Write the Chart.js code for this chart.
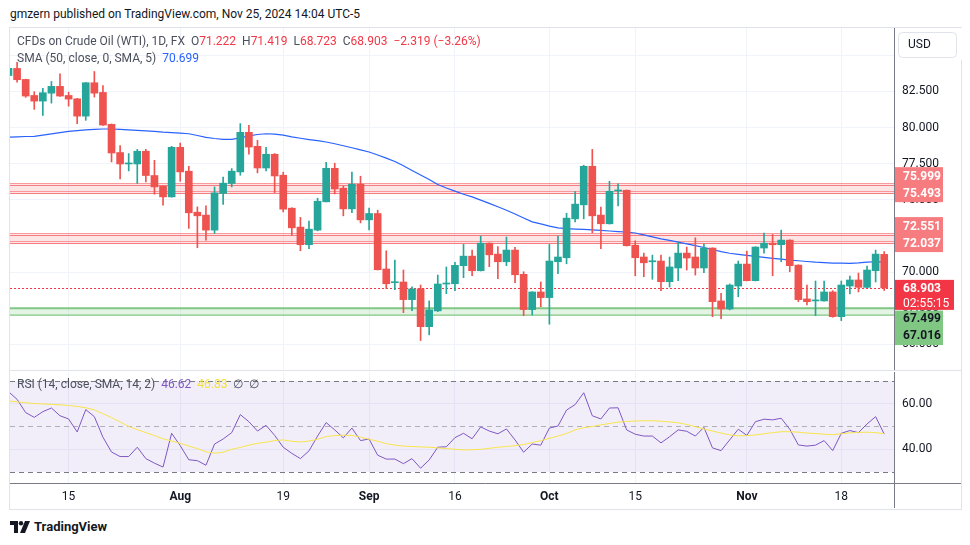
<!DOCTYPE html>
<html>
<head>
<meta charset="utf-8">
<script src="https://cdn.jsdelivr.net/npm/chart.js@4.4.1/dist/chart.umd.min.js"></script>
<style>
  html, body { margin: 0; padding: 0; background: #fff; }
  body { width: 970px; height: 545px; position: relative; overflow: hidden;
         font-family: Roboto, "Liberation Sans", sans-serif; color: #131722; }
  .abs { position: absolute; white-space: nowrap; }
  #frame { left: 9px; top: 27px; width: 951px; height: 481px; border: 1px solid #e0e3eb; }
  #sep { left: 10px; top: 370px; width: 951px; height: 1px; background: #e0e3eb; }
  #head { left: 10px; top: 7px; font-size: 12px; color: #131722; }
  .leg { left: 17px; font-size: 12px; color: #4a4f5c; }
  .leg b { font-weight: normal; color: #f23645; }
  #main { left: 0; top: 28px; }
  #rsi { left: 0; top: 371px; }
  #logo { left: 10px; top: 519px; font-size: 13px; font-weight: bold; color: #131722; }
  #logo svg { vertical-align: -2px; margin-right: 4px; }
</style>
</head>
<body>
<div id="frame" class="abs"></div>
<canvas id="main" class="abs" width="962" height="343"></canvas>
<div id="sep" class="abs"></div>
<canvas id="rsi" class="abs" width="962" height="138"></canvas>

<div id="head" class="abs">gmzern published on TradingView.com, Nov 25, 2024 14:04 UTC-5</div>
<div class="abs leg" style="top:34px">CFDs on Crude Oil (WTI), 1D, FX&nbsp;&nbsp;O<b>71.222</b>&nbsp;&nbsp;H<b>71.419</b>&nbsp;&nbsp;L<b>68.723</b>&nbsp;&nbsp;C<b>68.903</b>&nbsp;&nbsp;<b>−2.319 (−3.26%)</b></div>
<div class="abs leg" style="top:51px">SMA (50, close, 0, SMA, 5)&nbsp;&nbsp;<span style="color:#2962ff">70.699</span></div>
<div class="abs leg" style="top:377px">RSI (14, close, SMA, 14, 2)&nbsp;&nbsp;<span style="color:#7e57c2">46.62</span>&nbsp;&nbsp;<span style="color:#f5e03a">46.83</span>&nbsp;&nbsp;∅&nbsp;&nbsp;∅</div>
<div id="logo" class="abs"><svg width="20" height="12" viewBox="0 0 20 12"><path d="M0 0h8v12H4V4H0z" fill="#131722"/><circle cx="11" cy="2.2" r="2.2" fill="#131722"/><path d="M15 0h5l-5 12h-5z" fill="#131722"/></svg>TradingView</div>

<script>
// daily bars, Jul 4 .. Nov 25 2024 (index = bar number)
const opens = [83.60,84.09,83.33,82.22,81.83,82.38,82.85,82.22,81.99,80.79,
  83.10,82.43,80.22,78.27,77.48,77.48,78.36,76.68,75.94,75.20,
  78.63,76.98,74.14,73.94,72.90,75.44,76.13,76.93,79.67,78.70,
  77.20,78.15,76.70,74.42,73.11,71.89,72.90,74.86,77.18,75.80,
  74.37,76.08,73.61,74.05,70.21,69.26,69.31,68.09,68.83,66.22,
  67.31,69.17,69.19,70.44,71.10,70.09,72.00,71.24,70.71,71.52,
  69.84,67.40,68.62,68.23,70.71,70.99,73.68,74.65,77.32,73.94,
  73.34,75.61,75.66,71.86,71.04,70.71,70.76,69.33,70.28,71.31,
  71.04,70.28,71.66,68.00,67.44,69.03,70.55,69.40,71.66,72.00,
  71.89,72.21,70.48,68.14,68.00,68.00,68.62,66.91,69.03,69.45,
  68.94,70.09,71.222];
const highs = [84.30,84.52,83.35,82.48,82.71,83.19,83.72,82.45,82.02,83.12,
  83.88,82.91,80.25,78.75,78.20,78.49,78.49,77.73,75.96,78.70,
  78.93,77.32,74.51,74.58,75.89,76.58,77.16,80.27,80.15,79.12,
  78.63,78.20,76.91,74.45,73.78,73.52,75.11,77.60,77.53,75.94,
  76.91,76.63,74.42,74.28,71.47,70.83,70.14,68.98,69.10,68.00,
  69.79,70.35,70.67,71.91,71.52,72.49,72.02,71.77,72.42,71.71,
  70.02,68.64,69.31,71.91,72.49,74.07,75.57,77.39,78.49,74.49,
  76.28,76.10,75.68,72.16,71.31,71.17,71.17,71.04,72.05,71.73,
  72.37,71.93,71.68,68.53,69.17,70.76,71.45,71.75,72.69,72.60,
  72.90,72.23,70.50,69.10,69.38,69.38,68.71,69.38,69.72,69.93,
  70.41,71.52,71.419];
const lows = [83.40,83.14,82.09,81.26,80.84,81.69,82.15,81.48,80.27,80.50,
  82.11,80.15,77.62,76.44,77.00,76.13,76.24,75.39,74.63,75.18,
  76.28,73.02,71.68,72.21,72.67,74.68,75.89,76.70,78.15,76.86,
  77.00,75.50,74.16,72.53,71.47,71.61,72.85,74.85,75.41,73.89,
  74.10,73.40,72.92,70.14,68.85,68.78,67.19,67.33,65.26,65.65,
  67.26,68.50,68.71,69.61,69.74,70.07,70.37,69.54,70.44,69.26,
  66.98,67.03,67.60,66.39,69.88,70.57,73.47,73.68,72.71,71.61,
  73.32,74.58,71.80,69.74,69.68,69.50,68.71,68.96,69.40,70.14,
  69.79,69.95,66.91,66.77,67.38,68.29,69.38,69.38,71.31,69.74,
  70.71,70.02,67.95,67.72,66.98,67.98,66.87,66.64,68.48,68.62,
  68.92,69.31,68.723];
const closes = [84.10,83.31,82.18,81.83,82.41,82.85,82.18,81.97,80.79,83.10,
  82.38,80.17,78.24,77.48,77.51,78.36,76.68,75.89,75.20,78.63,
  76.93,74.10,73.89,72.90,75.48,76.15,76.98,79.67,78.65,77.20,
  78.15,76.65,74.35,73.06,71.89,72.97,74.90,77.18,75.75,74.37,
  76.08,73.61,74.05,70.16,69.19,69.31,68.09,68.83,66.22,67.38,
  69.17,69.24,70.46,71.10,70.09,72.00,71.19,70.71,71.52,69.81,
  67.40,68.62,68.23,70.76,71.04,73.73,74.70,77.32,73.89,73.34,
  75.59,75.66,71.82,70.99,70.64,70.74,69.33,70.35,71.31,70.97,
  70.28,71.66,67.95,67.44,69.10,70.55,69.40,71.73,72.00,71.89,
  72.21,70.44,68.09,67.95,68.05,68.62,66.91,69.10,69.45,68.94,
  70.14,71.24,68.903];
const sma50 = [79.34,79.36,79.38,79.39,79.47,79.56,79.65,79.74,79.79,79.84,
  79.88,79.90,79.90,79.88,79.84,79.80,79.77,79.73,79.68,79.65,
  79.62,79.57,79.45,79.32,79.24,79.18,79.18,79.28,79.42,79.52,
  79.57,79.55,79.48,79.36,79.26,79.17,79.09,79.00,78.88,78.74,
  78.60,78.45,78.31,78.10,77.88,77.65,77.35,77.03,76.72,76.40,
  76.06,75.82,75.60,75.38,75.20,74.98,74.75,74.52,74.28,74.02,
  73.74,73.47,73.33,73.18,73.06,73.00,72.97,72.95,72.92,72.88,
  72.84,72.80,72.77,72.70,72.57,72.43,72.30,72.19,72.07,71.95,
  71.83,71.70,71.56,71.41,71.30,71.22,71.15,71.08,71.01,70.95,
  70.89,70.83,70.78,70.73,70.68,70.65,70.62,70.61,70.60,70.63,
  70.68,70.71,70.699];
const rsi = [65.3,61.9,56.1,54.0,56.5,58.1,54.7,53.3,47.6,57.4,
  54.3,45.3,38.8,36.8,36.8,40.9,35.9,33.9,32.2,47.0,
  41.6,35.4,35.0,33.0,42.3,44.5,47.3,55.2,52.1,48.0,
  50.5,46.1,40.9,38.2,35.9,39.3,45.8,51.7,48.5,45.0,
  49.3,43.8,44.5,37.4,35.7,35.7,33.7,35.9,31.7,35.3,
  40.9,41.1,45.1,47.0,44.6,49.8,48.0,46.8,48.9,44.1,
  38.7,42.3,41.8,49.3,50.2,57.2,59.6,64.8,54.7,53.3,
  58.1,58.2,48.5,46.6,45.8,45.8,42.8,45.5,48.5,47.9,
  45.8,49.6,40.6,39.4,44.1,48.8,46.1,52.1,53.2,52.9,
  53.6,48.8,41.9,41.4,41.8,43.8,39.4,47.0,48.2,47.3,
  51.1,54.3,46.62];
const rsiSma = [61.2,60.8,60.4,60.1,59.9,59.7,59.5,59.2,58.8,58.2,
  57.3,55.6,53.9,52.0,50.0,48.6,47.3,46.0,44.6,43.6,
  42.6,41.4,40.3,38.9,38.3,38.7,40.0,40.8,41.8,42.6,
  43.1,43.8,44.1,43.5,43.2,43.6,44.4,45.6,46.0,46.2,
  46.1,45.3,44.4,43.5,42.5,41.8,41.4,41.2,41.0,40.9,
  40.6,40.3,40.0,39.7,39.8,40.0,40.4,40.9,41.2,41.6,
  42.1,42.9,43.8,44.8,45.8,46.9,48.5,49.5,50.0,50.7,
  51.3,51.9,52.2,52.4,52.5,52.5,52.3,52.0,51.6,50.9,
  49.9,48.9,48.0,47.1,46.3,45.9,46.0,46.3,46.8,47.3,
  47.7,47.7,47.5,47.1,46.9,46.6,46.4,46.8,47.2,47.4,
  47.5,47.3,46.83];

// time axis ticks (bar index -> label)
const tickIdx = [7, 20, 32, 42, 52, 63, 73, 86, 97];
const tickText = ["15", "Aug", "19", "Sep", "16", "Oct", "15", "Nov", "18"];
const monthNames = ["Aug", "Sep", "Oct", "Nov"];

// horizontal zones drawn on the chart
const redZones = [[75.999, 75.493], [72.551, 72.037]];
const greenZone = [67.499, 67.016];
const lastClose = 68.903;
const countdown = "02:55:15";

const UP = "#26a69a";
const DOWN = "#ef5350";
const GRID = "#f0f3fa";
const AXIS = "#787b86";
const FONT = "Roboto, 'Liberation Sans', sans-serif";
const X_MIN = 0.175;
const X_MAX = 103.14;

const barColors = closes.map((c, i) => (c >= opens[i] ? UP : DOWN));
const idx = closes.map((_, i) => i);

function noPad(scale) {
    scale.paddingTop = 0;
    scale.paddingBottom = 0;
    scale.paddingLeft = 0;
    scale.paddingRight = 0;
}

function tickLabel(v) {
    const k = tickIdx.indexOf(v);
    return k >= 0 ? tickText[k] : "";
}

function hLine(ctx, a, yy) {
    ctx.beginPath();
    ctx.moveTo(a.left, yy);
    ctx.lineTo(a.right, yy);
    ctx.stroke();
}

// -------------------------------------------------------------------------
// price pane
// -------------------------------------------------------------------------

const zonesPlugin = {
    id: "zones",
    beforeDatasetsDraw(chart) {
        const { ctx, chartArea: a, scales: { y } } = chart;
        ctx.save();
        ctx.beginPath();
        ctx.rect(a.left, a.top, a.right - a.left, a.bottom - a.top);
        ctx.clip();
        redZones.forEach(([hi, lo]) => {
            const y1 = Math.round(y.getPixelForValue(hi)) + 0.5;
            const y2 = Math.round(y.getPixelForValue(lo)) + 0.5;
            ctx.fillStyle = "rgba(247,124,128,0.2)";
            ctx.fillRect(a.left, y1 - 2, a.right - a.left, y2 - y1 + 2);
            ctx.lineWidth = 1;
            ctx.strokeStyle = "rgba(247,124,128,0.75)";
            hLine(ctx, a, y1 - 2);
            hLine(ctx, a, y2 - 2);
            ctx.strokeStyle = "#f77c80";
            hLine(ctx, a, y1);
            hLine(ctx, a, y2);
        });
        const g1 = y.getPixelForValue(greenZone[0]);
        const g2 = y.getPixelForValue(greenZone[1]);
        ctx.fillStyle = "rgba(129,199,132,0.22)";
        ctx.fillRect(a.left, g1, a.right - a.left, g2 - g1);
        ctx.strokeStyle = "#81c784";
        ctx.lineWidth = 2;
        hLine(ctx, a, g1);
        ctx.lineWidth = 1.3;
        hLine(ctx, a, g2);
        // last price dotted line
        const yc = Math.round(y.getPixelForValue(lastClose)) + 0.5;
        ctx.strokeStyle = "#f23645";
        ctx.lineWidth = 1;
        ctx.setLineDash([2, 2]);
        hLine(ctx, a, yc);
        ctx.restore();
    },
    afterDraw(chart) {
        const { ctx, chartArea: a, scales: { y } } = chart;
        const x0 = a.right + 1;
        const tx = a.right + 9;
        ctx.save();
        ctx.font = `bold 12px ${FONT}`;
        ctx.textBaseline = "middle";
        ctx.textAlign = "left";

        redZones.forEach(([hi, lo]) => {
            const yl = y.getPixelForValue(lo);
            const yh = yl - 16.5;
            ctx.fillStyle = "#f77c80";
            ctx.fillRect(x0, yh - 9, 48, yl - yh + 18.5);
            ctx.fillStyle = "#fff";
            ctx.fillText(hi.toFixed(3), tx, yh + 1);
            ctx.fillText(lo.toFixed(3), tx, yl + 1);
        });

        const yc = y.getPixelForValue(lastClose);
        ctx.fillStyle = "#f23645";
        ctx.fillRect(x0, yc - 8, 59, 30);
        ctx.fillStyle = "#fff";
        ctx.fillText(lastClose.toFixed(3), tx, yc + 1);
        ctx.font = `12px ${FONT}`;
        ctx.fillText(countdown, tx, yc + 16);

        const gt = yc + 22.7;
        ctx.fillStyle = "#81c784";
        ctx.fillRect(x0, gt, 48, 34.5);
        ctx.fillStyle = "#131722";
        ctx.font = `bold 12px ${FONT}`;
        ctx.fillText(greenZone[0].toFixed(3), tx, gt + 8.5);
        ctx.fillText(greenZone[1].toFixed(3), tx, gt + 25);

        // currency box
        ctx.fillStyle = "#fff";
        ctx.fillRect(a.right + 2, 0, 66, 32);
        ctx.strokeStyle = "#e0e3eb";
        ctx.lineWidth = 1;
        ctx.beginPath();
        ctx.roundRect(a.right + 4.5, 4.5, 58, 25, 4);
        ctx.stroke();
        ctx.fillStyle = "#131722";
        ctx.font = `12px ${FONT}`;
        ctx.fillText("USD", a.right + 14, 17);
        ctx.restore();
    },
};

new Chart(document.getElementById("main"), {
    type: "bar",
    data: {
        datasets: [
            {
                type: "line",
                data: idx.map((i) => ({ x: i, y: sma50[i] })),
                borderColor: "#2962ff",
                borderWidth: 1.2,
                pointRadius: 0,
                tension: 0,
                order: 3,
            },
            {
                data: idx.map((i) => ({ x: i, y: [lows[i], highs[i]] })),
                backgroundColor: barColors,
                barThickness: 1,
                grouped: false,
                order: 2,
            },
            {
                data: idx.map((i) => ({ x: i, y: [opens[i], closes[i]] })),
                backgroundColor: barColors,
                barThickness: 7,
                minBarLength: 1,
                grouped: false,
                order: 1,
            },
        ],
    },
    options: {
        responsive: false,
        animation: false,
        devicePixelRatio: 1,
        events: [],
        layout: { padding: { left: 10, top: 0, right: 0, bottom: 0 } },
        plugins: { legend: { display: false }, tooltip: { enabled: false } },
        scales: {
            x: {
                type: "linear",
                offset: false,
                min: X_MIN,
                max: X_MAX,
                afterBuildTicks: (axis) => { axis.ticks = tickIdx.map((v) => ({ value: v })); },
                afterFit: (scale) => { scale.height = 0; noPad(scale); },
                ticks: { display: false },
                grid: { color: GRID, drawTicks: false, offset: false },
                border: { display: false },
            },
            y: {
                position: "right",
                min: 63.15,
                max: 86.89,
                afterFit: (scale) => { scale.width = 68; noPad(scale); },
                ticks: {
                    stepSize: 2.5,
                    includeBounds: false,
                    padding: 8,
                    color: "#131722",
                    font: { family: FONT, size: 12 },
                    callback: (v) => v.toFixed(3),
                },
                grid: { color: GRID, drawTicks: false },
                border: { color: AXIS },
            },
        },
    },
    plugins: [zonesPlugin],
});

// -------------------------------------------------------------------------
// RSI pane + time axis
// -------------------------------------------------------------------------

const rsiBandPlugin = {
    id: "rsiBand",
    beforeDatasetsDraw(chart) {
        const { ctx, chartArea: a, scales: { y } } = chart;
        const y70 = y.getPixelForValue(70);
        const y30 = y.getPixelForValue(30);
        const y50 = y.getPixelForValue(50);
        ctx.save();
        ctx.fillStyle = "rgba(126,87,194,0.1)";
        ctx.fillRect(a.left, y70, a.right - a.left, y30 - y70);
        ctx.setLineDash([5, 4]);
        ctx.lineWidth = 1;
        [[y70, AXIS], [y30, AXIS], [y50, "rgba(120,123,134,0.55)"]].forEach(([yy, c]) => {
            ctx.strokeStyle = c;
            hLine(ctx, a, Math.round(yy) + 0.5);
        });
        ctx.restore();
    },
    afterDraw(chart) {
        const { ctx, chartArea: a, width, height } = chart;
        ctx.save();
        ctx.strokeStyle = AXIS;
        ctx.lineWidth = 1;
        ctx.beginPath();
        ctx.moveTo(a.left, a.bottom + 0.5);
        ctx.lineTo(width - 1, a.bottom + 0.5);
        ctx.moveTo(a.right + 0.5, a.bottom);
        ctx.lineTo(a.right + 0.5, height - 1);
        ctx.stroke();
        ctx.restore();
    },
};

new Chart(document.getElementById("rsi"), {
    type: "line",
    data: {
        datasets: [
            {
                data: idx.map((i) => ({ x: i, y: rsiSma[i] })),
                borderColor: "#f8e44b",
                borderWidth: 1,
                pointRadius: 0,
                tension: 0,
            },
            {
                data: idx.map((i) => ({ x: i, y: rsi[i] })),
                borderColor: "#7e57c2",
                borderWidth: 1,
                pointRadius: 0,
                tension: 0,
            },
        ],
    },
    options: {
        responsive: false,
        animation: false,
        devicePixelRatio: 1,
        events: [],
        layout: { padding: { left: 10, top: 1, right: 0, bottom: 0 } },
        plugins: { legend: { display: false }, tooltip: { enabled: false } },
        scales: {
            x: {
                type: "linear",
                min: X_MIN,
                max: X_MAX,
                afterBuildTicks: (axis) => { axis.ticks = tickIdx.map((v) => ({ value: v })); },
                afterFit: (scale) => { scale.height = 26; noPad(scale); },
                ticks: {
                    padding: 7,
                    maxRotation: 0,
                    autoSkip: false,
                    color: "#131722",
                    font: (c) => ({
                        family: FONT,
                        size: 12,
                        weight: c.tick && monthNames.includes(tickLabel(c.tick.value)) ? "bold" : "normal",
                    }),
                    callback: (v) => tickLabel(v),
                },
                grid: { color: GRID, drawTicks: false },
                border: { display: false },
            },
            y: {
                position: "right",
                min: 25.2,
                max: 73.9,
                afterBuildTicks: (axis) => { axis.ticks = [{ value: 40 }, { value: 60 }]; },
                afterFit: (scale) => { scale.width = 68; noPad(scale); },
                ticks: {
                    padding: 8,
                    color: "#131722",
                    font: { family: FONT, size: 12 },
                    callback: (v) => v.toFixed(2),
                },
                grid: { color: GRID, drawTicks: false },
                border: { color: AXIS },
            },
        },
    },
    plugins: [rsiBandPlugin],
});
</script>
</body>
</html>
